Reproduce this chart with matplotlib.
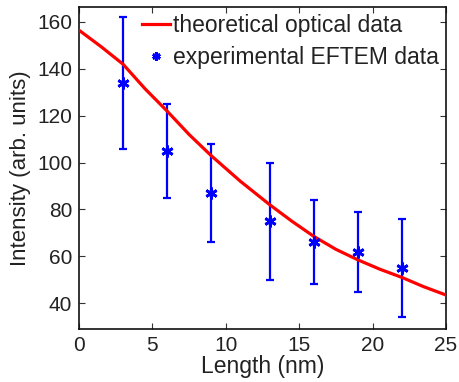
import matplotlib
matplotlib.use("Agg")
import matplotlib.pyplot as plt
import numpy as np

plt.rcParams['font.family'] = ['Liberation Sans', 'DejaVu Sans']

# theoretical curve
theory_x = [0, 1.5, 3, 4.5, 6, 7.5, 9, 11, 13, 14.5, 16, 17.5, 19, 20.5, 22, 23.5, 25]
theory_y = [156.5, 149.5, 142, 131.5, 122, 112, 103, 92, 82, 75, 68.5, 63, 58.5, 54.5, 51, 47, 43.5]

# experimental data
exp_x = [3, 6, 9, 13, 16, 19, 22]
exp_y = [134, 105, 87, 75, 66, 62, 55]
exp_top = [162, 125, 108, 100, 84, 79, 76]
exp_bot = [106, 85, 66, 50, 48, 45, 34]

TXT = '#222222'

fig = plt.figure(figsize=(4.6, 3.82), dpi=100)
ax = fig.add_axes([0.1717, 0.1387, 0.7979, 0.843])

ax.plot(theory_x, theory_y, color='#ff0000', lw=2.3, label='theoretical optical data', zorder=3)

yerr = [np.array(exp_y) - np.array(exp_bot), np.array(exp_top) - np.array(exp_y)]
ax.errorbar(exp_x, exp_y, yerr=yerr, fmt='none', ecolor='#0000ff', elinewidth=1.6,
            capsize=3, capthick=1.6, zorder=2)
ax.plot(exp_x, exp_y, linestyle='none', marker=(6, 2, 0), markersize=8.5, mew=2,
        color='#0000ff', label='experimental EFTEM data', zorder=4)

ax.set_xlim(0, 25)
ax.set_ylim(29, 166.4)
ax.set_xticks([0, 5, 10, 15, 20, 25])
ax.set_yticks([40, 60, 80, 100, 120, 140, 160])
ax.tick_params(direction='in', top=True, right=True, labelsize=15, length=4, width=0.8,
               colors='#333333', labelcolor=TXT, pad=5)
for s in ax.spines.values():
    s.set_linewidth(1.2)
    s.set_color('#111111')

ax.set_xlabel('Length (nm)', fontsize=16.5, color=TXT, labelpad=0)
ax.set_ylabel('Intensity (arb. units)', fontsize=16, color=TXT, labelpad=4)

leg = ax.legend(loc='upper right', frameon=False, fontsize=16.5, handlelength=1.2,
                handletextpad=0.15, labelspacing=0.42, borderaxespad=0.0, borderpad=0.3,
                markerscale=0.7)
for t in leg.get_texts():
    t.set_color(TXT)

fig.savefig('out.png', dpi=100)
